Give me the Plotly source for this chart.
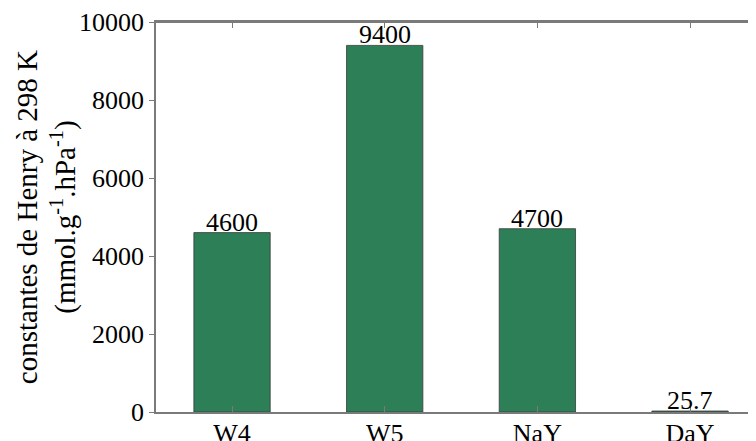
import plotly.graph_objects as go

# ==== data ====
materials = ['W4', 'W5', 'NaY', 'DaY']
henry_k = [4600, 9400, 4700, 25.7]
bar_labels = ['4600', '9400', '4700', '25.7']
y_ticks = [0, 2000, 4000, 6000, 8000, 10000]
y_tick_text = ['0', '2000', '4000', '6000', '8000', '10000']
y_title = 'constantes de Henry à 298 K<br>(mmol.g<sup>-1</sup>.hPa<sup>-1</sup>)'

# ==== settings ====
serif = 'Liberation Serif, Times New Roman, serif'
bar_col = '#2c7f56'
axis_col = '#7a7a7a'
tick_font = 26

fig = go.Figure()
fig.add_trace(go.Bar(
    x=materials, y=henry_k,
    width=0.5,
    marker=dict(color=bar_col, line=dict(color='#3a3a3a', width=0.8)),
    showlegend=False,
))

# value labels sitting right on the bar tops
for m, v, t in zip(materials, henry_k, bar_labels):
    fig.add_annotation(x=m, y=v, text=t, showarrow=False,
                       xanchor='center', yanchor='bottom', yshift=-6,
                       font=dict(family=serif, size=tick_font, color='black'))

# y title as a rotated annotation so it can sit where the original has it
fig.add_annotation(text=y_title, textangle=-90, showarrow=False,
                   xref='paper', yref='paper', x=-0.183, y=0.5,
                   xanchor='center', yanchor='middle',
                   font=dict(family=serif, size=29, color='black'))

fig.update_xaxes(
    range=[-0.498, 3.432], automargin=False,
    showline=True, linecolor=axis_col, linewidth=1.5, mirror='ticks',
    ticks='inside', ticklen=6, tickcolor=axis_col,
    tickfont=dict(family=serif, size=tick_font, color='black'),
    ticklabelstandoff=-3, ticklabeloverflow='allow',
    showgrid=False, zeroline=False,
)
fig.update_yaxes(
    range=[0, 10000], automargin=False,
    tickvals=y_ticks, ticktext=y_tick_text,
    showline=True, linecolor=axis_col, linewidth=1.5,
    ticks='outside', ticklen=5, tickcolor=axis_col,
    tickfont=dict(family=serif, size=tick_font, color='black'),
    ticklabeloverflow='allow',
    showgrid=False, zeroline=False,
)
# top frame line (box edge)
fig.add_shape(type='line', xref='paper', yref='y', x0=0, x1=1, y0=10000, y1=10000,
              layer='above', line=dict(color=axis_col, width=2))
# page body adds an 8px offset, so the figure is 8px smaller
fig.update_layout(
    width=748, height=433,
    margin=dict(l=148, r=0, t=14, b=29, autoexpand=False),
    plot_bgcolor='white', paper_bgcolor='white',
)

fig.write_html('out.html')
